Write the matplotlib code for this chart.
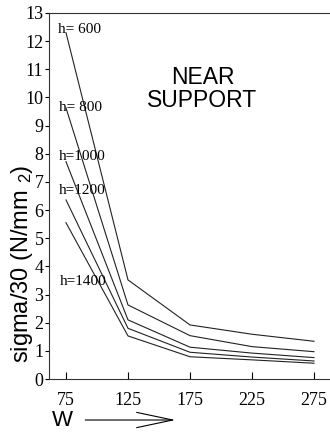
import numpy as np
import matplotlib
matplotlib.use('Agg')
import matplotlib.pyplot as plt

# larghezza W e rapporto sigma/30 per le varie altezze h
w = [75, 125, 175, 225, 275]
h_labels = ['h= 600', 'h= 800', 'h=1000', 'h=1200', 'h=1400']
sig_600 = [12.3, 3.52, 1.92, 1.59, 1.34]
sig_800 = [9.63, 2.63, 1.54, 1.15, 0.97]
sig_1000 = [7.72, 2.10, 1.13, 0.92, 0.76]
sig_1200 = [6.36, 1.80, 0.95, 0.78, 0.64]
sig_1400 = [5.55, 1.53, 0.79, 0.68, 0.56]
# posizione delle etichette h= (x, y) in coordinate dati
lab_x = [68.5, 69.5, 69.5, 69.5, 70.0]
lab_y = [12.4, 9.66, 7.89, 6.68, 3.48]

serif = 'Liberation Serif'
sans = 'Liberation Sans'

fig = plt.figure(figsize=(3.30, 4.33), dpi=100)
ax = fig.add_axes([0.1485, 0.1247, 0.8515, 0.8453])

for s in [sig_600, sig_800, sig_1000, sig_1200, sig_1400]:
    ax.plot(w, s, color='#222222', lw=0.8)

for lx, ly, t in zip(lab_x, lab_y, h_labels):
    ax.text(lx, ly, t, family=serif, fontsize=11, va='center', ha='left')

ax.set_xlim(61.3, 287.9)
ax.set_ylim(0, 13)
ax.set_xticks(w)
ax.set_yticks(np.arange(0, 14, 1))
ax.tick_params(axis='x', direction='in', length=5, width=0.8, pad=9)
ax.tick_params(axis='y', direction='out', length=3, width=0.8, pad=1)
for lab in ax.get_xticklabels() + ax.get_yticklabels():
    lab.set_family(serif)
    lab.set_fontsize(13)
ax.spines['right'].set_visible(False)
for sp in ['left', 'bottom', 'top']:
    ax.spines[sp].set_linewidth(0.8)
    ax.spines[sp].set_color('#333333')

ax.text(185, 10.3, 'NEAR\nSUPPORT', family=sans, fontsize=16.5, ha='center',
        va='center', linespacing=1.0)

fig.text(0.066, 0.39, r'sigma/30 (N/mm $\mathregular{_2}$)', family=sans,
         fontsize=17, rotation=90, ha='center', va='center')

# asse W con freccia
fig.text(0.19, 0.03, 'W', family=sans, fontsize=16, ha='center', va='center')
fig.add_artist(matplotlib.patches.FancyArrowPatch(
    (0.25, 0.03), (0.54, 0.03), transform=fig.transFigure,
    arrowstyle='->,head_length=2.6,head_width=0.55', mutation_scale=10,
    lw=0.8, color='black'))

fig.savefig('out.png', dpi=100)
